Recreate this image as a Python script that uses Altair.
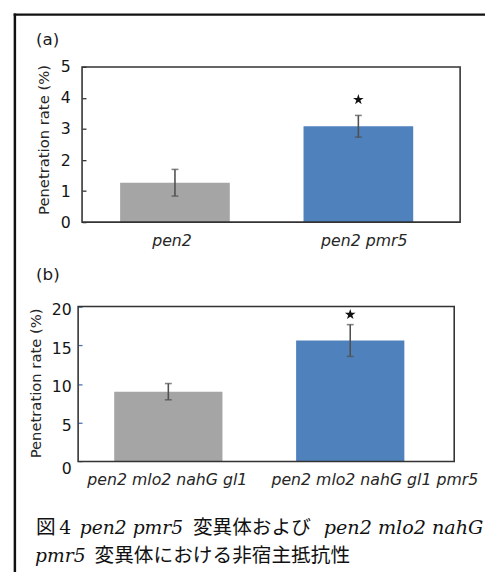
import altair as alt
import pandas as pd

# ---------------- data ----------------
cats_a = ["pen2", "pen2 pmr5"]
rate_a = [1.27, 3.09]
err_a = [0.43, 0.35]
star_a = [None, 3.95]

cats_b = ["pen2 mlo2 nahG gl1", "pen2 mlo2 nahG gl1 pmr5"]
rate_b = [9.0, 15.6]
err_b = [1.05, 2.05]
star_b = [None, 18.95]

bar_colors = ["#a5a5a5", "#4f81bd"]
ticks_a = [0, 1, 2, 3, 4, 5]
ticks_b = [0, 5, 10, 15, 20]
y_title = "Penetration rate (%)"

# ---------------- layout ----------------
W, H = 485, 564
STAR = ("M0,-1L0.2245,-0.309L0.951,-0.309L0.3633,0.118L0.5878,0.809L0,0.382"
        "L-0.5878,0.809L-0.3633,0.118L-0.951,-0.309L-0.2245,-0.309Z")
AX_FONT = "DejaVu Sans"
TXT = "#151515"
one = pd.DataFrame({"k": [0]})


def panel(cats, rate, err, star, ydom, ticks, xr, yr, pad, y_kw, x_kw, tick_color):
    df = pd.DataFrame({
        "cat": cats,
        "rate": rate,
        "lo": [r - e for r, e in zip(rate, err)],
        "hi": [r + e for r, e in zip(rate, err)],
        "star": star,
        "color": bar_colors,
    })
    xenc = alt.X("cat:N", sort=cats,
                 scale=alt.Scale(domain=cats, range=xr, paddingInner=pad, paddingOuter=0),
                 axis=alt.Axis(orient="bottom", ticks=False, tickSize=0, domain=False,
                               grid=False, labelFont=AX_FONT, labelFontStyle="italic",
                               labelFontSize=16, labelColor="#262626", labelAngle=0,
                               labelLimit=400, labelOverlap=False, labelFlush=False,
                               title=None, **x_kw))

    def yenc(field):
        return alt.Y(f"{field}:Q",
                     scale=alt.Scale(domain=ydom, range=yr, nice=False, zero=False),
                     axis=alt.Axis(orient="left", values=ticks, tickSize=4, tickWidth=1.3,
                                   tickColor=tick_color, domain=False, grid=False,
                                   labelFont=AX_FONT, labelFontSize=16, labelColor=TXT,
                                   labelFlush=False, labelOverlap=False, title=None, **y_kw))

    base = alt.Chart(df)
    bars = base.mark_bar().encode(x=xenc, y=yenc("rate"),
                                  fill=alt.Fill("color:N", scale=None))
    rule = base.mark_rule(color="#505050", strokeWidth=1.6).encode(
        x=xenc, y=yenc("lo"), y2=alt.Y2("hi:Q"))
    cap_hi = base.mark_tick(color="#505050", thickness=1.6, size=7).encode(x=xenc, y=yenc("hi"))
    cap_lo = base.mark_tick(color="#505050", thickness=1.6, size=7).encode(x=xenc, y=yenc("lo"))
    stars = base.transform_filter("isValid(datum.star)").mark_point(
        shape=STAR, size=130, filled=True, color="#111111", opacity=1
    ).encode(x=xenc, y=yenc("star"))
    return alt.layer(bars, rule, cap_hi, cap_lo, stars)


# panel (a): plot area x 75.3..459.7, y 55.3..213
pa = panel(cats_a, rate_a, err_a, star_a, [0, 5], ticks_a,
           [114, 412], [213, 55.3], 0.402,
           dict(offset=-79.3, labelPadding=12),
           dict(offset=213 - H, labelPadding=11,
                labelOffset={"condition": {"test": "datum.value == 'pen2'", "value": -3},
                             "value": 6}),
           "#333333")

# panel (b): plot area x 71.3..453.7, y 298.7..456.3
pb = panel(cats_b, rate_b, err_b, star_b, [0, 20], ticks_b,
           [108, 403], [456.3, 298.7], 0.405,
           dict(offset=-75.3, labelPadding=7,
                labelOffset={"condition": {"test": "datum.value == 0", "value": 7},
                             "value": 3}),
           dict(offset=456.3 - H, labelPadding=10,
                labelOffset={"condition": {"test": "datum.value == 'pen2 mlo2 nahG gl1 pmr5'",
                                           "value": 25}, "value": -1}),
           "#4a74b0")


def frame(x1, x2, y1, y2):
    return alt.Chart(one).mark_rect(fillOpacity=0, stroke="#333333", strokeWidth=1.6).encode(
        x=alt.value(x1), x2=alt.value(x2), y=alt.value(y1), y2=alt.value(y2))


def text(s, x, y, font, size, style="normal", align="left", baseline="alphabetic",
         angle=0, color="#111111"):
    return alt.Chart(one).mark_text(text=s, font=font, fontSize=size, fontStyle=style,
                                    align=align, baseline=baseline, angle=angle,
                                    color=color).encode(x=alt.value(x), y=alt.value(y))


border_top = alt.Chart(one).mark_rule(color="#111111", strokeWidth=2.5, strokeCap="square").encode(
    x=alt.value(7), x2=alt.value(W + 5), y=alt.value(2))
border_left = alt.Chart(one).mark_rule(color="#111111", strokeWidth=2.5, strokeCap="square").encode(
    x=alt.value(7), y=alt.value(2), y2=alt.value(H + 5))

SERIF = "DejaVu Serif"
CJK = "Noto Sans CJK JP"

decor = [
    border_top, border_left,
    frame(75.3, 459.7, 55.3, 213),
    frame(71.3, 453.7, 298.7, 456.3),
    text("(a)", 28.5, 27.5, AX_FONT, 17, baseline="middle", color="#1a1a1a"),
    text("(b)", 28.5, 267, AX_FONT, 17, baseline="middle", color="#1a1a1a"),
    text(y_title, 36.5, 129.5, AX_FONT, 15, align="center", baseline="middle",
         angle=270, color="#262626"),
    text(y_title, 28.5, 377, AX_FONT, 15, align="center", baseline="middle",
         angle=270, color="#262626"),
    # caption line 1
    text("図", 28.5, 530.5, CJK, 20),
    text("4", 52, 530.5, SERIF, 19),
    text("pen2 pmr5", 73, 530.5, SERIF, 19, style="italic"),
    text("変異体および", 188, 530.5, CJK, 20),
    text("pen2 mlo2 nahG", 321, 530.5, SERIF, 19.5, style="italic"),
    # caption line 2
    text("pmr5", 27.5, 558.5, SERIF, 19, style="italic"),
    text("変異体における非宿主抵抗性", 88, 558.5, CJK, 20),
]

chart = alt.layer(pa, pb, *decor).resolve_scale(
    x="independent", y="independent"
).properties(
    width=W, height=H, padding=0,
    autosize=alt.AutoSizeParams(type="none"),
    background="white",
).configure_view(strokeWidth=0)

chart.save("out.html", embed_options={"renderer": "svg", "actions": False})
